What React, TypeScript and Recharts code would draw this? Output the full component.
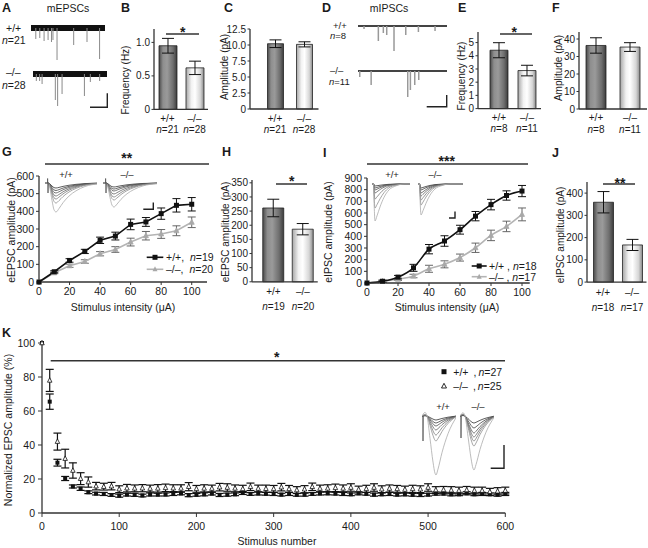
import React from "react";
import {
  BarChart,
  Bar,
  Cell,
  LineChart,
  Line,
  ScatterChart,
  Scatter,
  ComposedChart,
  XAxis,
  YAxis,
  ErrorBar,
  ReferenceArea,
} from "recharts";

const FONT = "'Liberation Sans', Arial, Helvetica, sans-serif";
const TXT = "#1a1a1a";
const AXIS = "#333";
const FS = 10.5;
const FS_BAR = 10;

// ---------- B, C, E, F, H, J: group means ----------
const genotypes = ["+/+", "–/–"];
const mepscFreq = [0.95, 0.62];
const mepscFreqErr = [0.11, 0.1];
const mepscAmp = [10.2, 10.1];
const mepscAmpErr = [0.6, 0.4];
const mepscN = [21, 28];
const mipscFreq = [4.42, 2.88];
const mipscFreqErr = [0.57, 0.4];
const mipscAmp = [36.3, 35.4];
const mipscAmpErr = [4.4, 2.5];
const mipscN = [8, 11];
const eepscBar = [261, 186];
const eepscBarErr = [31, 20];
const eepscN = [19, 20];
const eipscBar = [359, 167];
const eipscBarErr = [48, 25];
const eipscN = [18, 17];

// ---------- G, I: input-output curves ----------
const intensity = [0, 10, 20, 30, 40, 50, 60, 70, 80, 90, 100];
const eepscWt = [0, 58, 122, 173, 236, 260, 326, 340, 387, 434, 440];
const eepscWtErr = [0, 6, 10, 12, 18, 22, 30, 25, 32, 38, 38];
const eepscKo = [0, 52, 92, 116, 160, 184, 226, 262, 272, 290, 338];
const eepscKoErr = [0, 5, 9, 10, 12, 16, 22, 24, 25, 28, 30];
const eipscWt = [0, 15, 50, 130, 290, 360, 457, 573, 672, 750, 788];
const eipscWtErr = [0, 10, 15, 30, 40, 45, 38, 40, 45, 40, 48];
const eipscKo = [0, 14, 32, 60, 122, 160, 218, 302, 408, 485, 588];
const eipscKoErr = [0, 8, 10, 15, 30, 30, 30, 40, 45, 45, 55];

// ---------- K: train depression, stimulus 0..600 every 10 ----------
const kWt = [
  100, 65.5, 29.6, 20.3, 15.6, 14.3, 12.2,
  11.4, 11.2, 10.6, 10.2, 10.8, 10.7, 10.3, 10.9, 10.8, 10.9,
  11.2, 11.5, 10.5, 10.7, 11.0, 11.4, 10.6, 10.8, 11.0, 11.8,
  11.2, 11.5, 11.3, 11.2, 10.8, 11.2, 10.7, 10.8, 11.2, 11.5,
  11.6, 11.4, 11.2, 11.0, 11.6, 11.3, 10.8, 11.0, 11.2, 10.8,
  11.0, 10.7, 10.6, 10.8, 11.4, 11.4, 11.0, 11.0, 11.6, 11.0,
  11.2, 11.0, 10.8, 11.2,
];
const kWtErr = [
  0, 4.5, 2, 1.2, 0.9, 1, 0.8,
  0.8, 0.9, 0.8, 0.9, 0.8, 0.9, 0.8, 0.9, 0.8, 0.9,
  0.9, 0.8, 0.9, 0.8, 0.9, 0.8, 0.9, 0.9, 0.8, 0.9,
  0.8, 0.9, 0.8, 0.9, 0.8, 0.9, 0.8, 0.9, 0.8, 0.9,
  0.9, 0.8, 0.9, 0.8, 0.9, 0.8, 0.9, 0.8, 0.9, 0.8,
  0.9, 0.8, 0.9, 0.8, 0.9, 0.8, 0.9, 0.8, 0.9, 0.8,
  0.9, 0.8, 0.9, 0.9,
];
const kKo = [
  100, 78, 42, 32, 25, 20.2, 18.2,
  15.8, 15.5, 15.8, 14.0, 14.6, 14.5, 14.6, 14.4, 14.5, 14.8,
  14.6, 14.5, 15.5, 14.2, 14.5, 14.4, 15.2, 15.0, 14.5, 14.2,
  15.4, 14.4, 14.3, 14.2, 15.2, 14.2, 13.5, 14.0, 15.4, 14.4,
  14.5, 14.8, 14.5, 15.0, 13.8, 14.2, 15.0, 14.0, 14.4, 14.2,
  13.8, 14.2, 14.0, 15.0, 13.5, 13.6, 13.4, 13.2, 13.5, 13.2,
  13.2, 12.5, 12.8, 13.2,
];
const kKoErr = [
  0, 6.5, 5, 5.5, 4.5, 3.5, 3,
  2.2, 2.0, 2.2, 2.0, 2.2, 2.0, 2.1, 2.0, 2.2, 2.2,
  2.0, 2.1, 2.4, 2.0, 2.1, 2.0, 2.2, 2.2, 2.0, 2.1,
  2.2, 2.0, 2.1, 2.0, 2.2, 2.0, 2.0, 2.1, 2.2, 2.0,
  2.1, 2.2, 2.0, 2.2, 2.0, 2.1, 2.2, 2.0, 2.1, 2.0,
  2.0, 2.1, 2.0, 2.2, 2.0, 2.0, 2.1, 2.0, 2.1, 2.0,
  2.0, 2.0, 2.1, 2.0,
];
const kStim = kWt.map((_, i) => i * 10);

// ---------- A, D: miniature event traces (time 0..100, depth in px-ish units) ----------
const mepscWtEvents = [[6.8, -11], [12.2, -10], [18, -13], [23.4, -12], [28, -14], [30, -12], [35.5, -32], [58, -17], [76, -14], [93, -31]];
const mepscKoEvents = [[4, -7], [8.5, -7], [11.8, -10], [29.7, -26], [32.8, -32], [38.8, -20], [69, -22], [77, -8], [89.6, -7]];
const mipscWtEvents = [[6.7, -3], [22.8, -15], [28.4, -7], [32.2, -9], [40.4, -25], [53.6, -9], [67.8, -6], [86.5, -5]];
const mipscKoEvents = [[1.5, -6], [14.3, -14], [55.4, -26], [58.4, -19], [63.3, -14], [67.8, -9]];

// ---------- insets: normalized sweep shapes and peak depths ----------
const epscWave = [[0, 0], [3, 0], [5, -0.2], [7, -0.6], [9, -0.92], [11, -1], [14, -0.88], [18, -0.68], [24, -0.45], [31, -0.27], [40, -0.12], [54, -0.03]];
const ipscWave = [[0, 0], [1.5, 0], [2.2, -0.6], [3, -1], [5, -0.86], [8, -0.62], [12, -0.36], [17, -0.16], [24, -0.05], [32, 0], [45, 0]];
const trainWave = [[0, 0], [3, 0.06], [5, 0], [8, -0.38], [11, -0.78], [13, -0.97], [14, -1], [16, -0.9], [20, -0.62], [26, -0.3], [34, -0.03]];
const gWtDepths = [29, 20, 16, 13, 10, 7.5, 5];
const gKoDepths = [24, 17, 14, 11, 8, 6, 4];
const iWtDepths = [37, 24, 15, 9, 6, 4, 2];
const iKoDepths = [31, 21, 16, 12, 9, 6, 4];
const kWtDepths = [59, 25, 19, 14, 10, 7, 4];
const kKoDepths = [54, 30, 25, 21, 17, 12, 7];
const sweepColors = ["#ababab", "#8e8e8e", "#7a7a7a", "#666", "#555", "#444", "#333"];

const YW = 40;
const MT = 6;
const MR = 6;

type Box = { x: number; y: number; w: number; h: number };

const tickStyle = { fontSize: FS, fill: TXT, fontFamily: FONT };
const barTickStyle = { fontSize: FS_BAR, fill: TXT, fontFamily: FONT };

function nLabel(n: number) {
  return (
    <>
      <tspan fontStyle="italic">n</tspan>
      <tspan>={n}</tspan>
    </>
  );
}

function BarPanel(props: {
  box: Box;
  values: number[];
  errs: number[];
  ns: number[];
  domain: [number, number];
  ticks: number[];
  fmt?: (v: number) => string;
  padLeft: number;
  barSize: number;
  l1: number;
  l2: number;
}) {
  const { box, values, errs, ns, domain, ticks, fmt, padLeft, barSize, l1, l2 } = props;
  const rows = genotypes.map((g, i) => ({ g, v: values[i], e: errs[i], n: ns[i] }));
  const XH = 40;
  const GenoTick = (p: any) => (
    <g>
      <text x={p.x} y={p.y + l1} textAnchor="middle" fontSize={FS_BAR} fill={TXT}>
        {p.payload.value}
      </text>
      <text x={p.x} y={p.y + l2} textAnchor="middle" fontSize={FS_BAR} fill={TXT}>
        {nLabel(rows[p.index].n)}
      </text>
    </g>
  );
  return (
    <div style={{ position: "absolute", left: box.x - YW, top: box.y - MT }}>
      <BarChart
        width={YW + box.w + MR}
        height={MT + box.h + XH}
        data={rows}
        margin={{ top: MT, right: MR, left: 0, bottom: 0 }}
        barCategoryGap={0}
      >
        <XAxis
          dataKey="g"
          height={XH}
          axisLine={{ stroke: AXIS, strokeWidth: 1.3 }}
          tickLine={false}
          tickSize={0}
          tickMargin={0}
          interval={0}
          padding={{ left: padLeft, right: 0 }}
          tick={GenoTick}
        />
        <YAxis
          width={YW}
          domain={domain}
          ticks={ticks}
          tickFormatter={fmt}
          axisLine={{ stroke: AXIS, strokeWidth: 1.3 }}
          tickLine={{ stroke: AXIS }}
          tickSize={2.5}
          tickMargin={1.5}
          tick={barTickStyle}
          interval={0}
        />
        <Bar dataKey="v" barSize={barSize} stroke="#222" strokeWidth={0.8} isAnimationActive={false}>
          {rows.map((r, i) => (
            <Cell key={r.g} fill={i === 0 ? "url(#gradWt)" : "url(#gradKo)"} />
          ))}
          <ErrorBar dataKey="e" width={6} stroke="#111" strokeWidth={1} />
        </Bar>
      </BarChart>
    </div>
  );
}

const squareShape = (size: number, fill: string) => (p: any) =>
  p.cx == null ? (
    <g key={p.index} />
  ) : (
    <rect key={p.index} x={p.cx - size / 2} y={p.cy - size / 2} width={size} height={size} fill={fill} />
  );

const triShape = (size: number, fill: string, stroke: string) => (p: any) =>
  p.cx == null ? (
    <g key={p.index} />
  ) : (
    <polygon
      key={p.index}
      points={`${p.cx},${p.cy - size * 0.6} ${p.cx - size / 2},${p.cy + size * 0.4} ${p.cx + size / 2},${p.cy + size * 0.4}`}
      fill={fill}
      stroke={stroke}
      strokeWidth={0.8}
    />
  );

function CurvePanel(props: {
  box: Box;
  xMax: number;
  yMax: number;
  yTicks: number[];
  wt: number[];
  wtErr: number[];
  ko: number[];
  koErr: number[];
  curve: "linear" | "monotone";
}) {
  const { box, xMax, yMax, yTicks, wt, wtErr, ko, koErr, curve } = props;
  const rows = intensity.map((x, i) => ({ x, wt: wt[i], wtErr: wtErr[i], ko: ko[i], koErr: koErr[i] }));
  const XH = 20;
  return (
    <div style={{ position: "absolute", left: box.x - YW, top: box.y - MT }}>
      <LineChart
        width={YW + box.w + 12}
        height={MT + box.h + XH}
        data={rows}
        margin={{ top: MT, right: 12, left: 0, bottom: 0 }}
      >
        <XAxis
          type="number"
          dataKey="x"
          domain={[0, xMax]}
          ticks={[0, 20, 40, 60, 80, 100]}
          height={XH}
          axisLine={{ stroke: AXIS, strokeWidth: 1.3 }}
          tickLine={{ stroke: AXIS }}
          tickSize={3}
          tickMargin={3}
          tick={tickStyle}
          interval={0}
        />
        <YAxis
          width={YW}
          domain={[0, yMax]}
          ticks={yTicks}
          axisLine={{ stroke: AXIS, strokeWidth: 1.3 }}
          tickLine={{ stroke: AXIS }}
          tickSize={3}
          tickMargin={2}
          tick={tickStyle}
          interval={0}
        />
        <Line
          dataKey="ko"
          type={curve}
          stroke="#b4b4b4"
          strokeWidth={1.6}
          dot={triShape(5, "#a8a8a8", "#a8a8a8")}
          isAnimationActive={false}
        >
          <ErrorBar dataKey="koErr" width={4} stroke="#666" strokeWidth={1} />
        </Line>
        <Line
          dataKey="wt"
          type={curve}
          stroke="#111"
          strokeWidth={1.6}
          dot={squareShape(5, "#111")}
          isAnimationActive={false}
        >
          <ErrorBar dataKey="wtErr" width={4} stroke="#111" strokeWidth={1} />
        </Line>
      </LineChart>
    </div>
  );
}

function TrainPanel() {
  const box: Box = { x: 41.7, y: 343, w: 463.3, h: 170 };
  const XH = 28;
  const RM = 20;
  const wtRows = kStim.map((x, i) => ({ x, y: kWt[i], e: kWtErr[i] }));
  const koRows = kStim.map((x, i) => ({ x, y: kKo[i], e: kKoErr[i] }));
  return (
    <div style={{ position: "absolute", left: box.x - YW, top: box.y - MT }}>
      <ScatterChart
        width={YW + box.w + RM}
        height={MT + box.h + XH}
        margin={{ top: MT, right: RM, left: 0, bottom: 0 }}
      >
        <XAxis
          type="number"
          dataKey="x"
          domain={[0, 600]}
          ticks={[0, 100, 200, 300, 400, 500, 600]}
          height={XH}
          axisLine={{ stroke: AXIS, strokeWidth: 1.3 }}
          tickLine={{ stroke: AXIS }}
          tickSize={4}
          tickMargin={6}
          tick={tickStyle}
          interval={0}
        />
        <YAxis
          type="number"
          dataKey="y"
          width={YW}
          domain={[0, 100]}
          ticks={[0, 20, 40, 60, 80, 100]}
          axisLine={{ stroke: AXIS, strokeWidth: 1.3 }}
          tickLine={{ stroke: AXIS }}
          tickSize={4}
          tickMargin={3}
          tick={tickStyle}
          interval={0}
        />
        <Scatter data={wtRows} dataKey="y" shape={squareShape(4, "#111")} isAnimationActive={false}>
          <ErrorBar dataKey="e" direction="y" width={4} stroke="#111" strokeWidth={1.2} />
        </Scatter>
        <Scatter data={koRows} dataKey="y" shape={triShape(4.5, "#fff", "#111")} isAnimationActive={false}>
          <ErrorBar dataKey="e" direction="y" width={4} stroke="#111" strokeWidth={1.2} />
        </Scatter>
      </ScatterChart>
    </div>
  );
}

function EventTrace(props: {
  box: Box;
  events: number[][];
  band: number;
  bandColor: string;
  spikeColor: string;
  spikeW: number;
}) {
  const { box, events, band, bandColor, spikeColor, spikeW } = props;
  const rows = events.map(([t, v]) => ({ t, v }));
  return (
    <div style={{ position: "absolute", left: box.x, top: box.y }}>
      <ComposedChart width={box.w} height={box.h} data={rows} margin={{ top: 0, right: 0, left: 0, bottom: 0 }}>
        <XAxis type="number" dataKey="t" domain={[0, 100]} hide />
        <YAxis type="number" domain={[-33, 4]} hide />
        <Bar dataKey="v" fill={spikeColor} barSize={spikeW} isAnimationActive={false} />
        <ReferenceArea x1={0} x2={100} y1={-band} y2={band} fill={bandColor} fillOpacity={1} stroke="none" />
      </ComposedChart>
    </div>
  );
}

function SweepInset(props: {
  left: number;
  width: number;
  baseline: number;
  tMax: number;
  yMin: number;
  yMax: number;
  wave: number[][];
  depths: number[];
  artifact?: number[][];
}) {
  const { left, width, baseline, tMax, yMin, yMax, wave, depths, artifact } = props;
  const rows: any[] = wave.map(([t, v]) => {
    const r: any = { t };
    depths.forEach((d, i) => {
      r["s" + i] = v * d;
    });
    return r;
  });
  (artifact || []).forEach(([t, v]) => rows.push({ t, a: v }));
  rows.sort((a, b) => a.t - b.t);
  return (
    <div style={{ position: "absolute", left, top: baseline - yMax }}>
      <LineChart width={width} height={yMax - yMin} data={rows} margin={{ top: 0, right: 0, left: 0, bottom: 0 }}>
        <XAxis type="number" dataKey="t" domain={[0, tMax]} allowDataOverflow hide />
        <YAxis type="number" domain={[yMin, yMax]} allowDataOverflow hide />
        {depths.map((_, i) => (
          <Line
            key={i}
            dataKey={"s" + (depths.length - 1 - i)}
            type="monotone"
            stroke={sweepColors[depths.length - 1 - i]}
            strokeWidth={0.8}
            dot={false}
            connectNulls
            isAnimationActive={false}
          />
        ))}
        {artifact && (
          <Line dataKey="a" type="linear" stroke="#555" strokeWidth={0.8} dot={false} connectNulls isAnimationActive={false} />
        )}
      </LineChart>
    </div>
  );
}

const star = (x: number, cy: number, s: string) => (
  <text x={x} y={cy + 8} textAnchor="middle" fontSize={14} fontWeight="bold" fill={TXT}>
    {s}
  </text>
);

const vTitle = (x: number, y: number, s: string, fs: number = FS) => (
  <text transform={`translate(${x},${y}) rotate(-90)`} textAnchor="middle" dominantBaseline="central" fontSize={fs} fill={TXT}>
    {s}
  </text>
);

function Overlay() {
  const letters: [string, number, number][] = [
    ["A", 2, 12], ["B", 121, 12], ["C", 224, 12], ["D", 322, 12], ["E", 458, 12], ["F", 552, 12],
    ["G", 2, 156], ["H", 222, 156], ["I", 323, 157], ["J", 552, 157], ["K", 2, 337],
  ];
  return (
    <svg width={648} height={548} style={{ position: "absolute", left: 0, top: 0, pointerEvents: "none" }} fontFamily={FONT}>
      {letters.map(([s, x, y]) => (
        <text key={s} x={x} y={y} fontSize={12.5} fontWeight="bold" fill={TXT}>
          {s}
        </text>
      ))}
      <text x={68} y={12} textAnchor="middle" fontSize={FS} fill={TXT}>mEPSCs</text>
      <text x={389} y={12} textAnchor="middle" fontSize={FS} fill={TXT}>mIPSCs</text>

      <text x={6} y={32} fontSize={FS} fill={TXT}>+/+</text>
      <text x={2} y={44} fontSize={FS} fill={TXT}>{nLabel(mepscN[0])}</text>
      <text x={6} y={75.5} fontSize={FS} fill={TXT}>–/–</text>
      <text x={2} y={89} fontSize={FS} fill={TXT}>{nLabel(mepscN[1])}</text>
      <text x={333} y={29} fontSize={9.5} fill={TXT}>+/+</text>
      <text x={330} y={39} fontSize={9.5} fill={TXT}>{nLabel(mipscN[0])}</text>
      <text x={330} y={74} fontSize={9.5} fill={TXT}>–/–</text>
      <text x={329} y={85} fontSize={9.5} fill={TXT}>{nLabel(mipscN[1])}</text>

      {vTitle(125, 80, "Frequency (Hz)", 10)}
      {vTitle(224, 67, "Amplitude (pA)", 10)}
      {vTitle(461.5, 76, "Frequency (Hz)", 10)}
      {vTitle(558, 68, "Amplitude (pA)", 10)}
      {vTitle(11, 230, "eEPSC amplitude (pA)")}
      {vTitle(225.5, 232, "eEPSC amplitude (pA)", 10)}
      {vTitle(328, 232, "eIPSC amplitude (pA)")}
      {vTitle(560, 235, "eIPSC amplitude (pA)", 10)}
      {vTitle(8, 430, "Normalized EPSC amplitude (%)")}

      <text x={123} y={310.5} textAnchor="middle" fontSize={FS} fill={TXT}>Stimulus intensity (μA)</text>
      <text x={447} y={310.5} textAnchor="middle" fontSize={FS} fill={TXT}>Stimulus intensity (μA)</text>
      <text x={277} y={545} textAnchor="middle" fontSize={FS} fill={TXT}>Stimulus number</text>

      <g stroke="#333" strokeWidth={1.5}>
        <line x1={166} x2={199} y1={34} y2={34} />
        <line x1={500} x2={532} y1={34} y2={34} />
        <line x1={45} x2={209} y1={164} y2={164} />
        <line x1={276} x2={307} y1={184} y2={184} />
        <line x1={367} x2={528} y1={164} y2={164} />
        <line x1={603} x2={635} y1={184} y2={184} />
        <line x1={50.7} x2={505} y1={360.7} y2={360.7} />
      </g>
      {star(182.7, 28.5, "*")}
      {star(514.3, 29, "*")}
      {star(126.7, 155, "**")}
      {star(291.7, 178.3, "*")}
      {star(446.7, 158, "***")}
      {star(620, 180, "**")}
      {star(276.7, 354, "*")}

      <g stroke="#222" strokeWidth={1.4} fill="none">
        <path d="M107.3 93.3 V107.3 H90" />
        <path d="M446.7 95 V106.7 H426.7" />
        <path d="M153.3 202.5 V209.3 H143.3" />
        <path d="M455 211.5 V218 H449" />
        <path d="M504 445 V468.3 H490.7" />
      </g>

      <g fontSize={9.5} fill={TXT} textAnchor="middle">
        <text x={66} y={177.5}>+/+</text>
        <text x={127} y={177.5}>–/–</text>
        <text x={392} y={177.5}>+/+</text>
        <text x={435} y={177.5}>–/–</text>
        <text x={443} y={409.5}>+/+</text>
        <text x={478} y={409.5}>–/–</text>
      </g>

      <line x1={146.7} x2={163.3} y1={257.3} y2={257.3} stroke="#111" strokeWidth={1.6} />
      <rect x={152.5} y={254.8} width={5} height={5} fill="#111" />
      <text x={166} y={261} fontSize={FS} fill={TXT}>+/+,  <tspan dx={3} fontStyle="italic">n</tspan>=19</text>
      <line x1={146.7} x2={163.3} y1={269.3} y2={269.3} stroke="#b4b4b4" strokeWidth={1.6} />
      <polygon points="155,266.3 152.5,271.3 157.5,271.3" fill="#a8a8a8" />
      <text x={166} y={273} fontSize={FS} fill={TXT}>–/–,  <tspan dx={3} fontStyle="italic">n</tspan>=20</text>

      <line x1={471.7} x2={486.7} y1={266} y2={266} stroke="#111" strokeWidth={1.6} />
      <rect x={476.7} y={263.5} width={5} height={5} fill="#111" />
      <text x={489} y={270} fontSize={FS} fill={TXT}>+/+ , <tspan fontStyle="italic">n</tspan>=18</text>
      <line x1={471.7} x2={486.7} y1={276.7} y2={276.7} stroke="#b4b4b4" strokeWidth={1.6} />
      <polygon points="479.2,273.7 476.7,278.7 481.7,278.7" fill="#a8a8a8" />
      <text x={489} y={280.5} fontSize={FS} fill={TXT}>–/– , <tspan fontStyle="italic">n</tspan>=17</text>

      <rect x={441.5} y={369.2} width={5} height={5} fill="#111" />
      <text x={453.3} y={375.5} fontSize={FS} fill={TXT}>+/+<tspan dx={5}>,</tspan><tspan dx={2} fontStyle="italic">n</tspan>=27</text>
      <polygon points="444,383.3 441.5,388 446.5,388" fill="#fff" stroke="#111" strokeWidth={0.9} />
      <text x={453.3} y={389.5} fontSize={FS} fill={TXT}>–/–<tspan dx={5}>,</tspan><tspan dx={2} fontStyle="italic">n</tspan>=25</text>
    </svg>
  );
}

const fmt1 = (v: number) => (v === 0 ? "0" : v.toFixed(1));

export default function App() {
  return (
    <div
      style={{
        position: "absolute",
        left: 0,
        top: 0,
        width: 648,
        height: 548,
        overflow: "hidden",
        background: "#fff",
        fontFamily: FONT,
        color: TXT,
      }}
    >
      <svg width={0} height={0} style={{ position: "absolute" }}>
        <defs>
          <linearGradient id="gradWt" x1="0" x2="1" y1="0" y2="0">
            <stop offset="0" stopColor="#4a4a4a" />
            <stop offset="0.22" stopColor="#8e8e8e" />
            <stop offset="0.45" stopColor="#9a9a9a" />
            <stop offset="0.78" stopColor="#6e6e6e" />
            <stop offset="1" stopColor="#3c3c3c" />
          </linearGradient>
          <linearGradient id="gradKo" x1="0" x2="1" y1="0" y2="0">
            <stop offset="0" stopColor="#a6a6a6" />
            <stop offset="0.3" stopColor="#f2f2f2" />
            <stop offset="0.5" stopColor="#ffffff" />
            <stop offset="0.8" stopColor="#d6d6d6" />
            <stop offset="1" stopColor="#8a8a8a" />
          </linearGradient>
        </defs>
      </svg>

      <EventTrace box={{ x: 31, y: 23.5, w: 74, h: 37 }} events={mepscWtEvents} band={3} bandColor="#111" spikeColor="#8a8a8a" spikeW={1} />
      <EventTrace box={{ x: 33, y: 69.5, w: 74, h: 37 }} events={mepscKoEvents} band={3} bandColor="#111" spikeColor="#8a8a8a" spikeW={1} />
      <EventTrace box={{ x: 358, y: 22, w: 89, h: 37 }} events={mipscWtEvents} band={1} bandColor="#444" spikeColor="#999" spikeW={1.5} />
      <EventTrace box={{ x: 358, y: 67, w: 89, h: 37 }} events={mipscKoEvents} band={1} bandColor="#444" spikeColor="#999" spikeW={1.5} />

      <BarPanel box={{ x: 154, y: 28.6, w: 54, h: 80.4 }} values={mepscFreq} errs={mepscFreqErr} ns={mepscN}
        domain={[0, 1.2]} ticks={[0, 0.5, 1]} fmt={fmt1} padLeft={0} barSize={18} l1={13} l2={24} />
      <BarPanel box={{ x: 250, y: 29, w: 68.5, h: 80 }} values={mepscAmp} errs={mepscAmpErr} ns={mepscN}
        domain={[0, 12.5]} ticks={[0, 2.5, 5, 7.5, 10, 12.5]} fmt={fmt1} padLeft={10.5} barSize={16} l1={13} l2={24} />
      <BarPanel box={{ x: 478, y: 32.4, w: 63, h: 76.6 }} values={mipscFreq} errs={mipscFreqErr} ns={mipscN}
        domain={[0, 5.8]} ticks={[0, 1, 2, 3, 4, 5]} padLeft={7} barSize={18} l1={12} l2={23.5} />
      <BarPanel box={{ x: 579, y: 32, w: 68, h: 77 }} values={mipscAmp} errs={mipscAmpErr} ns={mipscN}
        domain={[0, 44]} ticks={[0, 10, 20, 30, 40]} padLeft={0} barSize={20} l1={12} l2={23.5} />
      <BarPanel box={{ x: 252, y: 180.2, w: 65.75, h: 101.8 }} values={eepscBar} errs={eepscBarErr} ns={eepscN}
        domain={[0, 360]} ticks={[0, 50, 100, 150, 200, 250, 300, 350]} padLeft={6.75} barSize={21} l1={13.5} l2={28.5} />
      <BarPanel box={{ x: 587, y: 181.9, w: 59.5, h: 100.1 }} values={eipscBar} errs={eipscBarErr} ns={eipscN}
        domain={[0, 450]} ticks={[0, 100, 200, 300, 400]} padLeft={1.5} barSize={20} l1={13.5} l2={28.5} />

      <CurvePanel box={{ x: 39, y: 176, w: 168, h: 106 }} xMax={110} yMax={600}
        yTicks={[0, 100, 200, 300, 400, 500, 600]} wt={eepscWt} wtErr={eepscWtErr} ko={eepscKo} koErr={eepscKoErr} curve="linear" />
      <CurvePanel box={{ x: 366.5, y: 178.3, w: 162.75, h: 105 }} xMax={105} yMax={900}
        yTicks={[0, 100, 200, 300, 400, 500, 600, 700, 800, 900]} wt={eipscWt} wtErr={eipscWtErr} ko={eipscKo} koErr={eipscKoErr} curve="monotone" />

      <SweepInset left={45} width={52} baseline={182.7} tMax={52} yMin={-32} yMax={6} wave={epscWave} depths={gWtDepths}
        artifact={[[2.5, 0], [2.6, 4.5], [3, -10], [3.4, 0]]} />
      <SweepInset left={103} width={54} baseline={182.7} tMax={54} yMin={-32} yMax={6} wave={epscWave} depths={gKoDepths}
        artifact={[[2.5, 0], [2.6, 4.5], [3, -10], [3.4, 0]]} />
      <SweepInset left={372} width={38} baseline={184} tMax={38} yMin={-40} yMax={4} wave={ipscWave} depths={iWtDepths} />
      <SweepInset left={418} width={45} baseline={184} tMax={45} yMin={-40} yMax={4} wave={ipscWave} depths={iKoDepths} />

      <TrainPanel />
      <SweepInset left={422} width={34} baseline={415.5} tMax={34} yMin={-62} yMax={6} wave={trainWave} depths={kWtDepths}
        artifact={[[0.8, 0], [1, -25], [1.3, 0]]} />
      <SweepInset left={460} width={34} baseline={415.5} tMax={34} yMin={-62} yMax={6} wave={trainWave} depths={kKoDepths}
        artifact={[[0.8, 0], [1, -22], [1.3, 0]]} />

      <Overlay />
    </div>
  );
}
